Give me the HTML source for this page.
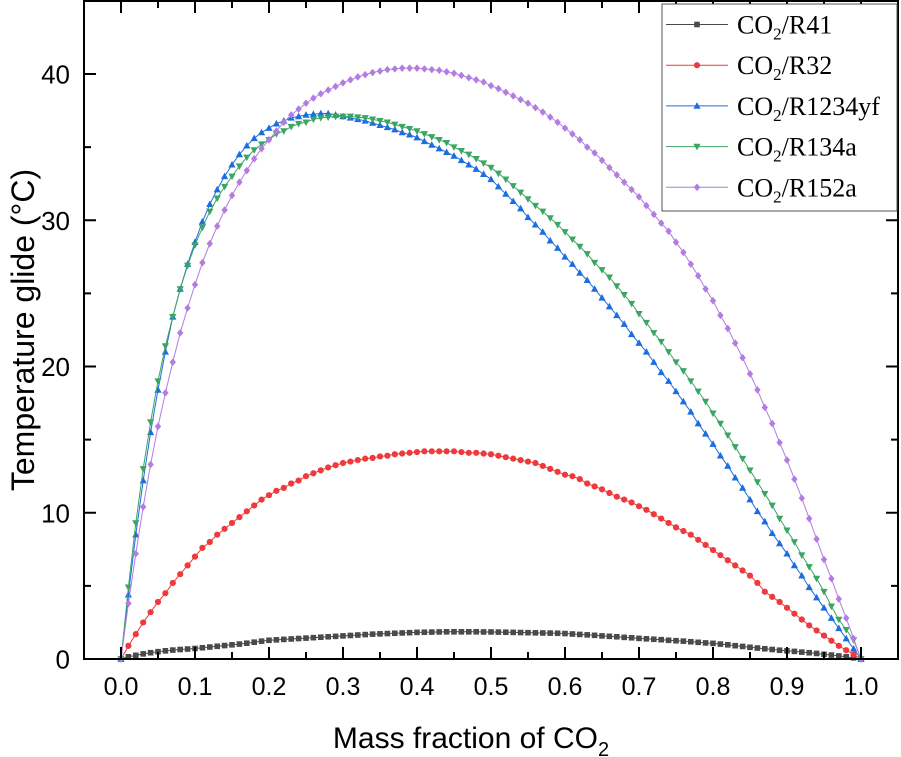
<!DOCTYPE html>
<html><head><meta charset="utf-8"><style>
html,body{margin:0;padding:0;background:#fff;}
svg{display:block;}
</style></head><body>
<svg id="chart" width="901" height="757" viewBox="0 0 901 757" xmlns="http://www.w3.org/2000/svg">
<g id="plot"></g>
<g id="axes"></g>
<g id="legend"></g>
</svg>
<script>
const xTicks = ["0.0","0.1","0.2","0.3","0.4","0.5","0.6","0.7","0.8","0.9","1.0"];
const yTicks = ["0","10","20","30","40"];
const seriesNames = ["CO2/R41","CO2/R32","CO2/R1234yf","CO2/R134a","CO2/R152a"];
const r41 = [0,0.15,0.25,0.35,0.43,0.5,0.56,0.61,0.65,0.68,0.72,0.77,0.82,0.87,0.92,0.97,1.02,1.08,1.15,1.22,1.28,1.31,1.34,1.37,1.4,1.43,1.46,1.49,1.52,1.55,1.58,1.61,1.64,1.67,1.7,1.72,1.74,1.76,1.78,1.8,1.82,1.83,1.84,1.85,1.86,1.86,1.86,1.86,1.86,1.85,1.85,1.84,1.83,1.82,1.81,1.8,1.79,1.78,1.77,1.76,1.74,1.71,1.68,1.65,1.62,1.58,1.55,1.52,1.48,1.45,1.41,1.38,1.35,1.32,1.28,1.25,1.22,1.18,1.14,1.1,1.07,1.02,0.97,0.91,0.86,0.8,0.75,0.7,0.65,0.6,0.56,0.52,0.47,0.43,0.38,0.32,0.27,0.21,0.15,0.08,0];
const r32 = [0,0.9,1.7,2.5,3.2,3.9,4.5,5.2,5.8,6.4,7.0,7.6,8.0,8.5,8.9,9.3,9.7,10.1,10.5,10.9,11.2,11.5,11.7,12.0,12.2,12.5,12.7,12.9,13.1,13.25,13.4,13.5,13.6,13.7,13.75,13.85,13.9,14.0,14.05,14.1,14.15,14.2,14.2,14.2,14.2,14.2,14.15,14.1,14.1,14.05,14.0,13.9,13.8,13.7,13.6,13.5,13.4,13.2,13.0,12.8,12.6,12.5,12.3,12.0,11.8,11.6,11.35,11.1,10.9,10.7,10.45,10.2,9.9,9.6,9.3,9.0,8.75,8.5,8.15,7.8,7.45,7.1,6.75,6.4,6.05,5.7,5.2,4.6,4.25,3.9,3.5,3.1,2.7,2.3,1.95,1.6,1.25,0.9,0.6,0.3,0];
const r1234yf = [0,4.4,8.5,12.2,15.5,18.4,21.0,23.4,25.3,27.0,28.5,29.9,31.1,32.1,33.0,33.8,34.5,35.1,35.6,36.0,36.3,36.6,36.8,37.0,37.1,37.2,37.25,37.3,37.3,37.2,37.1,37.0,36.9,36.8,36.65,36.5,36.35,36.2,36.0,35.85,35.65,35.4,35.15,34.9,34.65,34.4,34.1,33.8,33.5,33.15,32.8,32.3,31.8,31.3,30.8,30.2,29.7,29.2,28.6,28.1,27.5,27.0,26.4,25.9,25.3,24.7,24.1,23.5,22.9,22.2,21.6,21.0,20.3,19.6,19.0,18.3,17.6,16.9,16.1,15.4,14.7,13.9,13.2,12.4,11.7,10.9,10.1,9.4,8.6,7.9,7.2,6.4,5.7,4.9,4.2,3.5,2.8,2.1,1.4,0.7,0];
const r134a = [0,4.9,9.3,13.0,16.2,19.0,21.4,23.4,25.3,26.9,28.3,29.5,30.6,31.5,32.3,33.0,33.7,34.3,34.8,35.2,35.5,35.9,36.1,36.4,36.6,36.7,36.9,37.0,37.05,37.1,37.1,37.1,37.05,37.0,36.9,36.8,36.7,36.55,36.4,36.25,36.1,35.9,35.7,35.5,35.3,35.0,34.75,34.5,34.2,33.9,33.6,33.2,32.8,32.35,31.9,31.45,31.0,30.6,30.15,29.7,29.2,28.7,28.2,27.7,27.1,26.6,26.1,25.5,24.9,24.3,23.6,23.0,22.3,21.7,21.0,20.3,19.7,19.0,18.3,17.6,16.8,16.1,15.3,14.5,13.7,12.9,12.1,11.3,10.5,9.6,8.8,8.0,7.1,6.3,5.5,4.6,3.6,2.7,2.0,1.3,0];
const r152a = [0,3.8,7.2,10.4,13.3,15.9,18.2,20.3,22.3,24.0,25.6,27.1,28.4,29.6,30.7,31.7,32.6,33.4,34.2,34.9,35.5,36.1,36.7,37.2,37.6,38.0,38.35,38.65,38.9,39.15,39.4,39.6,39.8,39.95,40.1,40.2,40.3,40.35,40.4,40.4,40.4,40.35,40.3,40.25,40.15,40.05,39.9,39.75,39.6,39.45,39.2,39.0,38.75,38.5,38.25,38.0,37.7,37.4,37.05,36.7,36.3,35.9,35.5,35.0,34.6,34.1,33.6,33.1,32.6,32.1,31.6,31.0,30.4,29.8,29.25,28.5,27.8,27.0,26.2,25.3,24.5,23.5,22.6,21.6,20.6,19.5,18.4,17.2,16.1,14.8,13.6,12.3,11.0,9.6,8.2,6.8,5.5,4.1,2.8,1.4,0];

const NS="http://www.w3.org/2000/svg";
const L=84,R=898,T=1,B=659;
const X0=121, XPX=740;
const YPX=14.625;
function sx(v){return X0+v*XPX;}
function sy(v){return B-v*YPX;}
function mk(tag,attrs,parent){const e=document.createElementNS(NS,tag);for(const k in attrs)e.setAttribute(k,attrs[k]);parent.appendChild(e);return e;}

const plot=document.getElementById('plot'), axes=document.getElementById('axes');
const colors=["#4a4a4a","#ee3a3c","#1c6ee0","#3ba563","#b27ce0"];
const shapes=["square","circle","up","down","diamond"];
const data=[r41,r32,r1234yf,r134a,r152a];

function marker(shape,cx,cy,c,parent){
  let e;
  if(shape==="square") e=mk('rect',{x:cx-2.8,y:cy-2.8,width:5.6,height:5.6,fill:c},parent);
  else if(shape==="circle") e=mk('circle',{cx:cx,cy:cy,r:3.1,fill:c},parent);
  else if(shape==="up") e=mk('polygon',{points:`${cx},${cy-3.8} ${cx+3.6},${cy+2.8} ${cx-3.6},${cy+2.8}`,fill:c},parent);
  else if(shape==="down") e=mk('polygon',{points:`${cx},${cy+3.8} ${cx+3.6},${cy-2.8} ${cx-3.6},${cy-2.8}`,fill:c},parent);
  else e=mk('polygon',{points:`${cx},${cy-3.8} ${cx+3.2},${cy} ${cx},${cy+3.8} ${cx-3.2},${cy}`,fill:c},parent);
  return e;
}

data.forEach((arr,si)=>{
  const g=mk('g',{},plot);
  
  
  const pts=arr.map((v,i)=>sx(i/(arr.length-1)).toFixed(2)+','+sy(v).toFixed(2)).join(' ');
  const pl=mk('polyline',{points:pts,fill:'none',stroke:colors[si],'stroke-width':1},g);
  
  
  arr.forEach((v,i)=>{
    const m=marker(shapes[si],sx(i/(arr.length-1)),sy(v),colors[si],g);
    
    
  });
});

const frame=mk('rect',{x:L,y:T,width:R-L,height:B-T,fill:'none',stroke:'#000','stroke-width':2},axes);


xTicks.forEach((t,i)=>{
  const v=parseFloat(t), x=sx(v);
  mk('line',{x1:x,y1:B,x2:x,y2:B-12,stroke:'#000','stroke-width':2},axes);
  mk('line',{x1:x,y1:T,x2:x,y2:T+12,stroke:'#000','stroke-width':2},axes);
  if(i<xTicks.length-1){const xm=sx(v+0.05);
    mk('line',{x1:xm,y1:B,x2:xm,y2:B-7,stroke:'#000','stroke-width':2},axes);
    mk('line',{x1:xm,y1:T,x2:xm,y2:T+7,stroke:'#000','stroke-width':2},axes);}
  const tx=mk('text',{x:x,y:695,'text-anchor':'middle','font-family':'Liberation Sans, sans-serif','font-size':25},axes);
  tx.textContent=t;
  
  
});
yTicks.forEach((t,i)=>{
  const v=parseFloat(t), y=sy(v);
  mk('line',{x1:L,y1:y,x2:L+12,y2:y,stroke:'#000','stroke-width':2},axes);
  mk('line',{x1:R,y1:y,x2:R-12,y2:y,stroke:'#000','stroke-width':2},axes);
  const ym=sy(v+5);
  mk('line',{x1:L,y1:ym,x2:L+7,y2:ym,stroke:'#000','stroke-width':2},axes);
  mk('line',{x1:R,y1:ym,x2:R-7,y2:ym,stroke:'#000','stroke-width':2},axes);
  const ty=mk('text',{x:70,y:y+9.5,'text-anchor':'end','font-family':'Liberation Sans, sans-serif','font-size':26},axes);
  ty.textContent=t;
  
  
});
</script>
<script>
(function(){
const NS="http://www.w3.org/2000/svg";
const axes=document.getElementById('axes'), legend=document.getElementById('legend');
const xt=document.createElementNS(NS,'text');
xt.setAttribute('x',471);xt.setAttribute('y',748);xt.setAttribute('text-anchor','middle');
xt.setAttribute('font-family','Liberation Sans, sans-serif');xt.setAttribute('font-size',30);
xt.innerHTML='Mass fraction of CO<tspan font-size="20" dy="8">2</tspan>';


axes.appendChild(xt);
const yt=document.createElementNS(NS,'text');
yt.setAttribute('transform','translate(34,330) rotate(-90)');yt.setAttribute('text-anchor','middle');
yt.setAttribute('font-family','Liberation Sans, sans-serif');yt.setAttribute('font-size',32);
yt.textContent='Temperature glide (°C)';


axes.appendChild(yt);

const box=document.createElementNS(NS,'rect');
box.setAttribute('x',662);box.setAttribute('y',4);box.setAttribute('width',235);box.setAttribute('height',207);
box.setAttribute('fill','#fff');box.setAttribute('stroke','#555');box.setAttribute('stroke-width',1);


legend.appendChild(box);
const colors=["#4a4a4a","#ee3a3c","#1c6ee0","#3ba563","#b27ce0"];
const labels=["R41","R32","R1234yf","R134a","R152a"];
const shapes=["square","circle","up","down","diamond"];
labels.forEach((lb,i)=>{
  const y=24.5+i*40.7, c=colors[i], cx=697;
  const g=document.createElementNS(NS,'g');
  
  
  legend.appendChild(g);
  const ln=document.createElementNS(NS,'line');
  ln.setAttribute('x1',666);ln.setAttribute('x2',728);ln.setAttribute('y1',y);ln.setAttribute('y2',y);
  ln.setAttribute('stroke',c);ln.setAttribute('stroke-width',1);g.appendChild(ln);
  let m;
  if(shapes[i]==='square'){m=document.createElementNS(NS,'rect');m.setAttribute('x',cx-2.8);m.setAttribute('y',y-2.8);m.setAttribute('width',5.6);m.setAttribute('height',5.6);}
  else if(shapes[i]==='circle'){m=document.createElementNS(NS,'circle');m.setAttribute('cx',cx);m.setAttribute('cy',y);m.setAttribute('r',3.1);}
  else{m=document.createElementNS(NS,'polygon');
    const p=shapes[i]==='up'?`${cx},${y-3.8} ${cx+3.6},${y+2.8} ${cx-3.6},${y+2.8}`:shapes[i]==='down'?`${cx},${y+3.8} ${cx+3.6},${y-2.8} ${cx-3.6},${y-2.8}`:`${cx},${y-3.8} ${cx+3.2},${y} ${cx},${y+3.8} ${cx-3.2},${y}`;
    m.setAttribute('points',p);}
  m.setAttribute('fill',c);g.appendChild(m);
  const t=document.createElementNS(NS,'text');
  t.setAttribute('x',737);t.setAttribute('y',y+9);
  t.setAttribute('font-family','Liberation Serif, serif');t.setAttribute('font-size',26);
  t.innerHTML='CO<tspan font-size="17" dy="6">2</tspan><tspan dy="-6">/'+lb+'</tspan>';
  g.appendChild(t);
});
})();
</script>
</body></html>
